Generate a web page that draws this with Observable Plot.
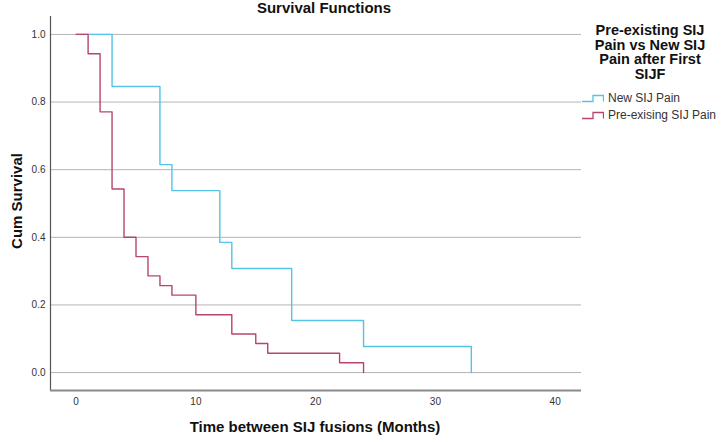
<!DOCTYPE html>
<html>
<head>
<meta charset="utf-8">
<script src="https://cdn.jsdelivr.net/npm/d3@7"></script>
<script src="https://cdn.jsdelivr.net/npm/@observablehq/plot@0.6"></script>
<style>
  html, body { margin: 0; padding: 0; background: #fff; }
  #wrap { position: relative; width: 722px; height: 442px; font-family: "Liberation Sans", Arial, sans-serif; color: #111; }
  .abs { position: absolute; white-space: nowrap; }
  .bold { font-weight: bold; font-size: 15px; line-height: 17px; }
  .item { position: absolute; left: 582px; display: flex; align-items: center; font-size: 12px; color: #333; line-height: 14px; }
  .item svg { margin-right: 4px; }
</style>
</head>
<body>
<div id="wrap"></div>
<script>
// ---- data ----
const groups = ["New SIJ Pain", "Pre-exising SIJ Pain"];
const colors = ["#55C3E6", "#B8446E"];
const newTimes = [0, 3, 7, 8, 12, 13, 18, 24, 33];
const newSurv  = [1, 0.846, 0.615, 0.538, 0.385, 0.308, 0.154, 0.077, 0];
const preTimes = [0, 1, 2, 3, 4, 5, 6, 7, 8, 10, 13, 15, 16, 22, 24];
const preSurv  = [1, 0.943, 0.771, 0.543, 0.400, 0.343, 0.286, 0.257, 0.229, 0.171, 0.114, 0.086, 0.057, 0.029, 0];
const xTicks = [0, 10, 20, 30, 40];
const yTicks = [0, 0.2, 0.4, 0.6, 0.8, 1.0];
const title = "Survival Functions";
const xLabel = "Time between SIJ fusions (Months)";
const yLabel = "Cum Survival";
const legendTitle = ["Pre-existing SIJ", "Pain vs New SIJ", "Pain after First", "SIJF"];

// ---- build ----
const rows = [
  ...newTimes.map((t, i) => ({t, s: newSurv[i], group: groups[0]})),
  ...preTimes.map((t, i) => ({t, s: preSurv[i], group: groups[1]}))
];
const xDom = [-2.14, 42.2];
const yDom = [-0.053, 1.053];

const chart = Plot.plot({
  width: 722, height: 442,
  marginLeft: 50, marginRight: 141, marginTop: 16, marginBottom: 52,
  x: {domain: xDom},
  y: {domain: yDom},
  color: {domain: groups, range: colors},
  style: {fontFamily: '"Liberation Sans", Arial, sans-serif', fontSize: "10px", color: "#333", background: "white", overflow: "visible"},
  marks: [
    Plot.ruleY(yTicks, {x1: xDom[0], x2: xDom[1], stroke: "#b4b4b4", strokeWidth: 1}),
    Plot.ruleX([xDom[0]], {y1: yDom[0], y2: yDom[1], stroke: "#555", strokeWidth: 1.2}),
    Plot.ruleY([yDom[0]], {x1: xDom[0], x2: xDom[1], stroke: "#8a8a8a", strokeWidth: 1.8}),
    Plot.axisX({ticks: xTicks, tickSize: 0, tickPadding: 7, label: null, tickFormat: d => d}),
    Plot.axisY({ticks: yTicks, tickSize: 0, tickPadding: 5, label: null, tickFormat: d3.format(".1f")}),
    Plot.line(rows, {x: "t", y: "s", z: "group", stroke: "group", curve: "step-after", strokeWidth: 1.4})
  ]
});
const wrap = document.getElementById("wrap");
wrap.appendChild(chart);

function addDiv(cls, text, css) {
  const d = document.createElement("div");
  d.className = cls;
  d.innerHTML = text;
  Object.assign(d.style, css);
  wrap.appendChild(d);
  return d;
}
addDiv("abs bold", title, {left: "324px", top: "-1px", transform: "translateX(-50%)"});
addDiv("abs bold", xLabel, {left: "315px", top: "418px", transform: "translateX(-50%)"});
addDiv("abs bold", yLabel, {left: "16px", top: "201px", transform: "translate(-50%,-50%) rotate(-90deg)"});
addDiv("abs bold", legendTitle.join("<br>"), {left: "650px", top: "23px", transform: "translateX(-50%)", textAlign: "center", fontSize: "14.5px", lineHeight: "14.5px"});

groups.forEach((g, i) => {
  const it = document.createElement("div");
  it.className = "item";
  it.style.top = (91 + i * 16.5) + "px";
  it.innerHTML = `<svg width="22" height="10"><path d="M0,8.5H11V2.5H21.5V8.5" fill="none" stroke="${colors[i]}" stroke-width="1.3"/></svg><span>${g}</span>`;
  wrap.appendChild(it);
});
</script>
</body>
</html>
